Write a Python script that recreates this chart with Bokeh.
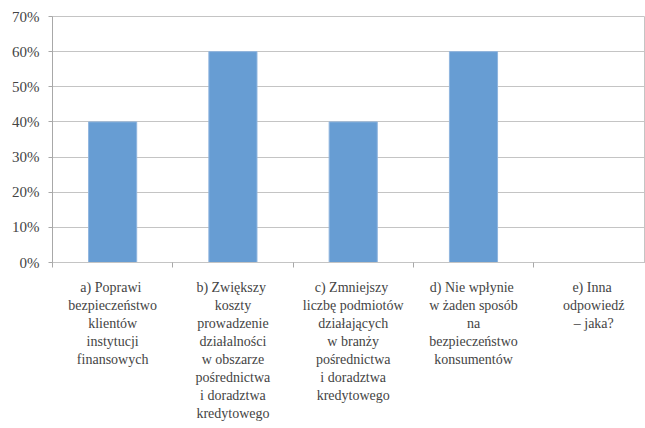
from bokeh.plotting import figure
from bokeh.models import FixedTicker, NumeralTickFormatter, Range1d
from bokeh.embed import file_html
from bokeh.resources import INLINE

categories = [
    "a)  Poprawi\nbezpieczeństwo\nklientów\ninstytucji\nfinansowych",
    "b)  Zwiększy\nkoszty\nprowadzenie\ndziałalności\nw obszarze\npośrednictwa\ni doradztwa\nkredytowego",
    "c)  Zmniejszy\nliczbę podmiotów\ndziałających\nw branży\npośrednictwa\ni doradztwa\nkredytowego",
    "d)  Nie wpłynie\nw żaden sposób\nna\nbezpieczeństwo\nkonsumentów",
    "e)  Inna\nodpowiedź\n– jaka?",
]
values = [0.40, 0.60, 0.40, 0.60, 0.0]
y_ticks = [0.0, 0.1, 0.2, 0.3, 0.4, 0.5, 0.6, 0.7]

centers = [i + 0.5 for i in range(len(categories))]
bounds = [float(i) for i in range(len(categories) + 1)]

FONT = "Liberation Serif"
GRID = "#c4c4c4"

p = figure(
    width=645, height=428,
    min_border_left=52, min_border_top=16, min_border_right=0,
    min_border_bottom=166,
    x_range=Range1d(0, 4.93), y_range=Range1d(0, 0.7),
    output_backend="svg", toolbar_location=None,
)
p.outline_line_color = GRID

p.vbar(x=centers, top=values, width=0.4,
       fill_color="#679dd3", line_color="#8fb5df", line_width=1)

# horizontal gridlines only
p.xgrid.grid_line_color = None
p.ygrid.grid_line_color = GRID

# value axis
p.yaxis.ticker = FixedTicker(ticks=y_ticks)
p.yaxis.formatter = NumeralTickFormatter(format="0%")
p.yaxis.major_label_text_font = FONT
p.yaxis.major_label_text_font_size = "15px"
p.yaxis.axis_line_color = "#a8a8a8"
p.yaxis.major_tick_line_color = "#a8a8a8"
p.yaxis.minor_tick_line_color = None
p.yaxis.major_tick_in = 0
p.yaxis.major_tick_out = 4
p.yaxis.major_label_standoff = 9

# category axis: labels at centres, tick marks at boundaries
p.xaxis.ticker = FixedTicker(ticks=centers, minor_ticks=bounds)
p.xaxis.major_label_overrides = {c: lab for c, lab in zip(centers, categories)}
p.xaxis.major_label_text_font = FONT
p.xaxis.major_label_text_font_size = "14px"
p.xaxis.axis_line_color = GRID
p.xaxis.major_tick_in = 0
p.xaxis.major_tick_out = 0
p.xaxis.minor_tick_in = 0
p.xaxis.minor_tick_out = 5
p.xaxis.minor_tick_line_color = "#a8a8a8"
p.xaxis.major_label_standoff = 12

open("out.html", "w").write(file_html(p, INLINE))
